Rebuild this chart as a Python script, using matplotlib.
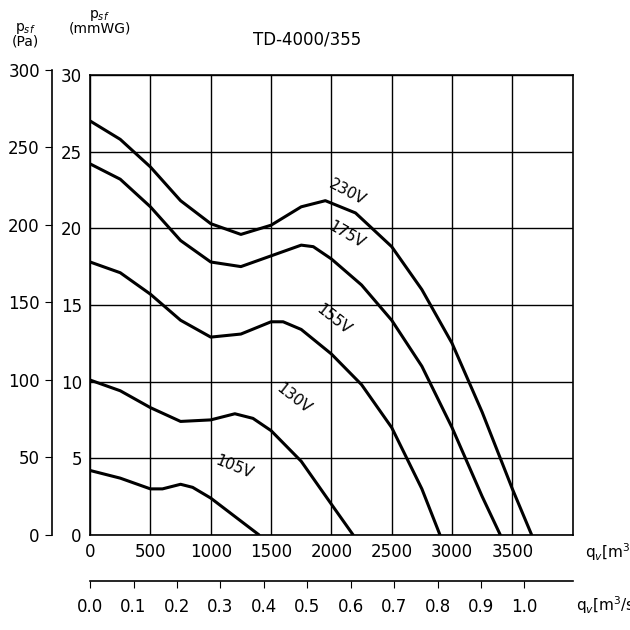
import matplotlib.pyplot as plt

# Kennlinien TD-4000/355, qv [m3/h] -> psf [Pa]
q_230 = [0, 250, 500, 750, 1000, 1250, 1500, 1750, 1950, 2200, 2500, 2750, 3000, 3250, 3500, 3660]
p_230 = [270, 258, 240, 218, 203, 196, 202, 214, 218, 210, 188, 160, 125, 80, 30, 0]
q_175 = [0, 250, 500, 750, 1000, 1250, 1500, 1750, 1850, 2000, 2250, 2500, 2750, 3000, 3250, 3400]
p_175 = [242, 232, 214, 192, 178, 175, 182, 189, 188, 180, 163, 140, 110, 70, 25, 0]
q_155 = [0, 250, 500, 750, 1000, 1250, 1500, 1600, 1750, 2000, 2250, 2500, 2750, 2900]
p_155 = [178, 171, 157, 140, 129, 131, 139, 139, 134, 118, 98, 70, 30, 0]
q_130 = [0, 250, 500, 750, 1000, 1200, 1350, 1500, 1750, 2000, 2180]
p_130 = [101, 94, 83, 74, 75, 79, 76, 68, 48, 20, 0]
q_105 = [0, 250, 500, 600, 750, 850, 1000, 1200, 1400]
p_105 = [42, 37, 30, 30, 33, 31, 24, 12, 0]

curves = [(q_230, p_230, "230V", 1960, 21.3, -28),
          (q_175, p_175, "175V", 1950, 18.5, -30),
          (q_155, p_155, "155V", 1850, 12.9, -38),
          (q_130, p_130, "130V", 1520, 7.7, -38),
          (q_105, p_105, "105V", 1020, 3.5, -22)]

xticks = [0, 500, 1000, 1500, 2000, 2500, 3000, 3500]
m3s_ticks = [0.0, 0.1, 0.2, 0.3, 0.4, 0.5, 0.6, 0.7, 0.8, 0.9, 1.0]

fig = plt.figure(figsize=(6.3, 6.3), dpi=100)
ax = fig.add_axes([0.143, 0.151, 0.766, 0.730])

for q, p, name, tx, ty, rot in curves:
    ax.plot(q, [v / 10 for v in p], color='black', lw=2.2, solid_capstyle='round')
    ax.text(tx, ty, name, fontsize=11, rotation=rot, ha='left', va='bottom')

ax.set_xlim(0, 4000)
ax.set_ylim(0, 30)
ax.set_xticks(xticks)
ax.set_yticks(range(0, 31, 5))
ax.grid(True, color='black', lw=1)
ax.tick_params(length=0, labelsize=12, pad=6)
for s in ax.spines.values():
    s.set_linewidth(1.2)
ax.text(4100, -0.4, "q$_v$[m$^3$/h]", fontsize=11, va='top')
ax.text(0.02, 1.085, "p$_{sf}$\n(mmWG)", transform=ax.transAxes, fontsize=10, ha='center', va='bottom', linespacing=0.9)
ax.set_title("TD-4000/355", fontsize=12, pad=22, x=0.45)

# Pa-Achse links
axp = fig.add_axes([0.082, 0.151, 0.001, 0.738])
axp.set_ylim(0, 300)
axp.set_yticks(range(0, 301, 50))
axp.set_xticks([])
for k in ['top', 'right', 'bottom']:
    axp.spines[k].set_visible(False)
axp.spines['left'].set_linewidth(1.2)
axp.tick_params(labelsize=12, length=5)
fig.text(0.04, 0.945, "p$_{sf}$\n(Pa)", fontsize=10, ha='center', va='center', linespacing=0.9)

# m3/s-Achse unten
axs = fig.add_axes([0.143, 0.076, 0.766, 0.001])
axs.set_xlim(0, 4000 / 3600)
axs.set_xticks(m3s_ticks)
axs.set_xticklabels([f"{v:.1f}" for v in m3s_ticks])
axs.set_yticks([])
for k in ['top', 'right', 'left']:
    axs.spines[k].set_visible(False)
axs.spines['bottom'].set_position(('axes', 1))
axs.spines['bottom'].set_linewidth(1.2)
axs.tick_params(labelsize=12, length=5, direction='in')
axs.xaxis.set_ticks_position('top')
axs.xaxis.set_label_position('bottom')
axs.tick_params(axis='x', labelbottom=True, labeltop=False, pad=12)
fig.text(0.915, 0.04, "q$_v$[m$^3$/s]", fontsize=11, ha='left', va='center')

fig.savefig("out.png", dpi=100)
